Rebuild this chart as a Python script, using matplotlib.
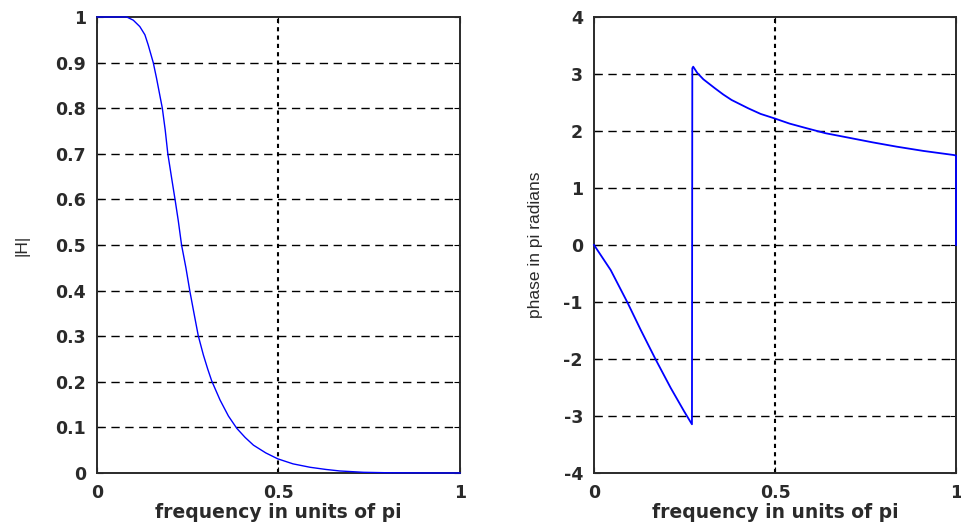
import matplotlib
matplotlib.use("Agg")
import matplotlib.pyplot as plt

# magnitude response
freq_mag = [0.0, 0.05, 0.082, 0.100, 0.118, 0.132, 0.141, 0.155, 0.164, 0.172,
            0.180, 0.188, 0.195, 0.205, 0.215, 0.224, 0.233, 0.245, 0.256,
            0.268, 0.279, 0.293, 0.305, 0.316, 0.339, 0.362, 0.385, 0.408, 0.431,
            0.465, 0.498, 0.540, 0.587, 0.630, 0.669, 0.734, 0.80, 0.90, 1.0]
mag = [1.0, 1.0, 1.0, 0.993, 0.979, 0.961, 0.939, 0.900, 0.866, 0.833,
       0.800, 0.752, 0.701, 0.650, 0.600, 0.553, 0.500, 0.450, 0.398,
       0.347, 0.301, 0.259, 0.228, 0.202, 0.160, 0.125, 0.098, 0.078, 0.061,
       0.044, 0.031, 0.020, 0.0125, 0.0078, 0.0044, 0.0015, 0.0005, 0.0001, 0.0]

# phase response
freq_ph = [0.0, 0.046, 0.092, 0.129, 0.170, 0.212, 0.249, 0.2705, 0.2715,
           0.274, 0.285, 0.302, 0.334, 0.357, 0.380, 0.426, 0.460, 0.498,
           0.540, 0.588, 0.640, 0.698, 0.770, 0.836, 0.910, 0.993, 1.0, 1.0, 1.0]
phase = [0.0, -0.44, -1.005, -1.49, -2.006, -2.51, -2.92, -3.146, 3.10,
         3.128, 3.02, 2.907, 2.749, 2.64, 2.544, 2.398, 2.30, 2.222,
         2.13, 2.047, 1.96, 1.889, 1.80, 1.725, 1.65, 1.579, 1.57, 0.78, 0.0]

xticks = [0, 0.5, 1]
xticklabels = ['0', '0.5', '1']
mag_ticks = [i / 10 for i in range(11)]
mag_ticklabels = ['0', '0.1', '0.2', '0.3', '0.4', '0.5', '0.6', '0.7', '0.8', '0.9', '1']
ph_ticks = [-4, -3, -2, -1, 0, 1, 2, 3, 4]

plt.rcParams['font.family'] = ['DejaVu Sans']

fig = plt.figure(figsize=(9.62, 5.26), dpi=100)
ax1 = fig.add_axes([0.1008, 0.1008, 0.3774, 0.8669])
ax2 = fig.add_axes([0.6175, 0.1008, 0.3763, 0.8669])

def style(ax, yticks, ylabels, ylim, ylabel, label_x):
    ax.set_xlim(0, 1)
    ax.set_ylim(*ylim)
    ax.set_xticks(xticks)
    ax.set_xticklabels(xticklabels)
    ax.set_yticks(yticks)
    ax.set_yticklabels(ylabels)
    ax.tick_params(direction='in', length=4, width=0.8, top=True, right=True,
                   labelsize=12.5, pad=8)
    for lab in ax.get_xticklabels() + ax.get_yticklabels():
        lab.set_fontweight('bold')
        lab.set_color('#2a2a2a')
    # horizontal dashed grid, vertical dotted grid
    for y in yticks[1:-1]:
        ax.axhline(y, color='black', lw=1.0, ls=(0, (6, 4)), zorder=1)
    ax.axvline(0.5, color='black', lw=1.5, ls=(0, (2, 2)), zorder=1)
    for s in ax.spines.values():
        s.set_linewidth(1.4)
        s.set_color('#2a2a2a')
    ax.set_xlabel('frequency in units of pi', fontsize=13.5, fontweight='bold',
                  color='#2a2a2a', labelpad=1)
    ax.set_ylabel(ylabel, fontsize=12.5,
                  family=['Liberation Sans', 'DejaVu Sans'], color='#2a2a2a')
    ax.yaxis.set_label_coords(label_x, 0.5)

ax1.plot(freq_mag, mag, color='blue', lw=1.0, zorder=3, clip_on=False)
style(ax1, mag_ticks, mag_ticklabels, (0, 1), '|H|', -0.185)

ax2.plot(freq_ph, phase, color='blue', lw=1.3, zorder=3, clip_on=False)
style(ax2, ph_ticks, [str(t) for t in ph_ticks], (-4, 4), 'phase in pi radians', -0.141)

fig.savefig('out.png', dpi=100)
